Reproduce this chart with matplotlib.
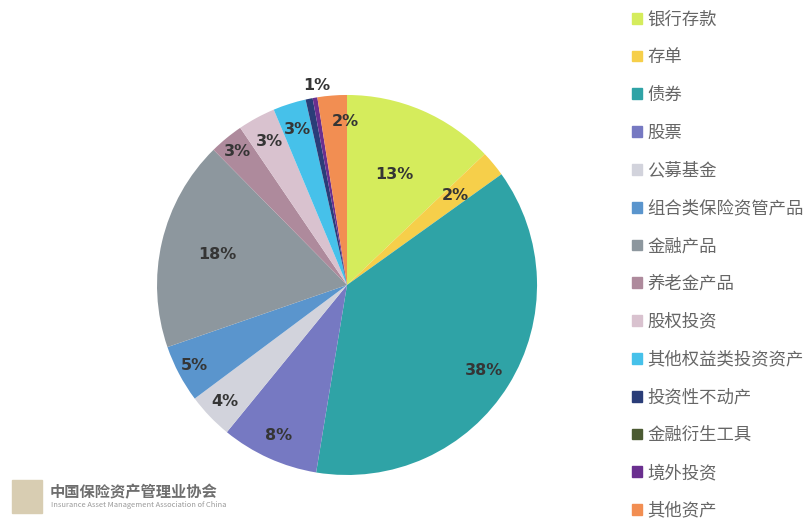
import numpy as np
import matplotlib
matplotlib.use("Agg")
import matplotlib.pyplot as plt
from matplotlib.patches import Rectangle

plt.rcParams['font.family'] = ['Noto Sans CJK SC', 'DejaVu Sans']

# asset categories, clockwise from 12 o'clock
categories = ["银行存款", "存单", "债券", "股票", "公募基金", "组合类保险资管产品",
              "金融产品", "养老金产品", "股权投资", "其他权益类投资资产",
              "投资性不动产", "金融衍生工具", "境外投资", "其他资产"]
shares = [12.9, 2.2, 37.5, 8.3, 3.9, 4.9, 17.9, 2.9, 3.2, 2.8, 0.6, 0.0, 0.4, 2.5]
colors = ["#d5ec5c", "#f6cf4a", "#2fa3a6", "#7679c2", "#d2d3dc", "#5a95cd",
          "#8d979e", "#ae8a9c", "#d9c2cf", "#46c1ea", "#2a3d78", "#4b5a32",
          "#6a2f8f", "#f28e52"]

# label placement per slice: radius fraction and angle nudge in degrees
label_r = [0.63, 0.74, 0.85, 0.87, 0.89, 0.91, 0.70, 0.91, 0.86, 0.86, 1.06, 0.9, 0.9, 0.86]
label_nudge = [0, 0, 0, 0, 0, 0, 0, 0, 0, 0, -3, 0, 0, -4]

fig = plt.figure(figsize=(8.11, 5.19), dpi=100)
ax = fig.add_axes([0.1936, 0.0848, 0.4686, 0.7322])

wedges, _ = ax.pie(shares, colors=colors, startangle=90, counterclock=False,
                   wedgeprops=dict(linewidth=0))
ax.set_xlim(-1, 1)
ax.set_ylim(-1, 1)
ax.set_aspect("equal")

total = sum(shares)
for w, v, r, dn in zip(wedges, shares, label_r, label_nudge):
    pct = 100 * v / total
    if round(pct) < 1:
        continue
    ang = np.deg2rad((w.theta1 + w.theta2) / 2 + dn)
    ax.text(r * np.cos(ang), r * np.sin(ang), f"{round(pct)}%",
            ha="center", va="center", fontsize=11.5, fontweight="bold",
            color="#353535", family="DejaVu Sans", clip_on=False)

handles = [Rectangle((0, 0), 1, 1, color=c) for c in colors]
fig.legend(handles, categories, loc="upper left", bbox_to_anchor=(0.7665, 1.0),
           frameon=False, fontsize=12.5, labelspacing=1.14, handlelength=0.58,
           handleheight=0.58, handletextpad=0.28, labelcolor="#666666",
           borderaxespad=0.2)

# association logo, bottom left
fig.patches.append(Rectangle((12 / 811, 1 - 513 / 519), 30 / 811, 33 / 519,
                             transform=fig.transFigure, color="#d8cdb2",
                             figure=fig))
fig.text(50 / 811, 1 - 492 / 519, "中国保险资产管理业协会", fontsize=11,
         color="#6e6e6e", va="center", fontweight="bold")
fig.text(51 / 811, 1 - 505 / 519, "Insurance Asset Management Association of China",
         fontsize=5.4, color="#9a9a9a", va="center")

fig.savefig("out.png", dpi=100)
